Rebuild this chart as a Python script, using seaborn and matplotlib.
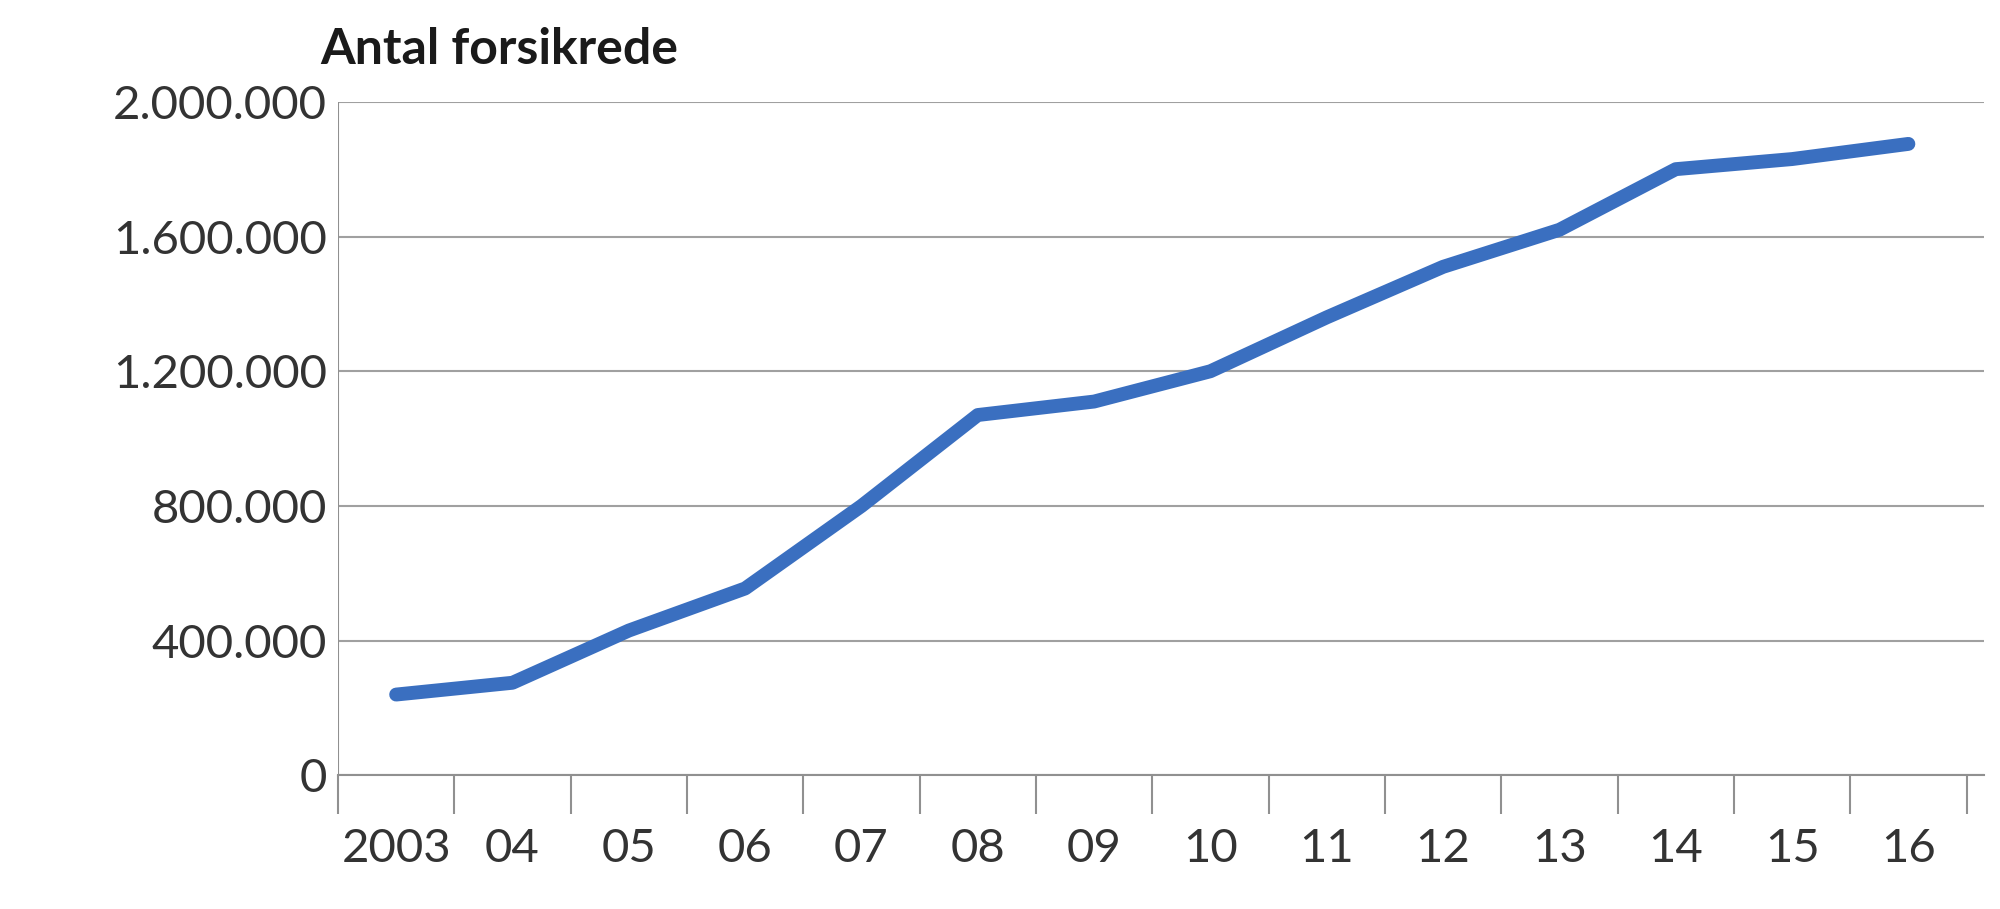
import matplotlib
matplotlib.use("Agg")
import matplotlib.pyplot as plt
import seaborn as sns
import pandas as pd
from matplotlib.ticker import FuncFormatter, FixedLocator

years = ["2003", "04", "05", "06", "07", "08", "09", "10", "11", "12", "13", "14", "15", "16"]
insured = [240000, 275000, 430000, 555000, 800000, 1070000, 1110000, 1200000,
           1360000, 1510000, 1620000, 1800000, 1830000, 1875000]

df = pd.DataFrame({"pos": range(len(years)), "insured": insured})

sns.set_style("white")
plt.rcParams["font.family"] = ["Lato", "DejaVu Sans"]

fig = plt.figure(figsize=(20, 9.09), dpi=100)
ax = fig.add_axes([0.169, 0.147, 0.823, 0.741])

sns.lineplot(data=df, x="pos", y="insured", ax=ax, color="#3a6fc0", linewidth=10,
             solid_capstyle="round")

ax.set_xlim(-0.5, 13.65)
ax.set_ylim(0, 2000000)
ax.yaxis.set_major_locator(FixedLocator([0, 400000, 800000, 1200000, 1600000, 2000000]))
ax.yaxis.set_major_formatter(FuncFormatter(lambda v, p: f"{int(v):,}".replace(",", ".")))
ax.grid(axis="y", color="#a0a0a0", linewidth=1.5)
ax.set_axisbelow(True)

ax.set_xticks([i + 0.5 for i in range(-1, 14)])
ax.set_xticklabels([])
ax.set_xticks(range(len(years)), minor=True)
ax.set_xticklabels(years, minor=True)
ax.tick_params(axis="x", which="major", bottom=True, length=28, width=1.5,
               color="#909090", direction="out")
ax.tick_params(axis="x", which="minor", bottom=True, length=0, pad=38, labelsize=34,
               labelcolor="#333333")
ax.tick_params(axis="y", length=0, pad=8, labelsize=34, labelcolor="#333333")

for s in ["top", "right", "left"]:
    ax.spines[s].set_visible(False)
ax.spines["bottom"].set_color("#909090")
ax.spines["bottom"].set_linewidth(1.5)
ax.axvline(-0.5, color="#909090", linewidth=1.5)

ax.set_xlabel("")
ax.set_ylabel("")
fig.text(0.16, 0.945, "Antal forsikrede", fontsize=36, fontweight="bold", color="#1a1a1a",
         va="center", ha="left")

fig.savefig("out.png", dpi=100)
